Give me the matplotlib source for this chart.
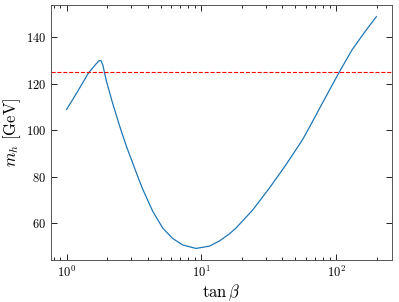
import matplotlib
matplotlib.use("Agg")
import matplotlib.pyplot as plt
from matplotlib.ticker import LogLocator, NullFormatter, NullLocator

plt.rcParams['font.family'] = 'serif'
plt.rcParams['font.serif'] = ['cmr10']
plt.rcParams['mathtext.fontset'] = 'cm'
plt.rcParams['axes.formatter.use_mathtext'] = True
plt.rcParams['axes.unicode_minus'] = False

tan_beta = [1.0, 1.18, 1.46, 1.66, 1.74, 1.80, 1.86, 1.97, 2.20, 2.47, 2.77, 3.19, 3.47,
            3.67, 4.36, 5.17, 6.13, 7.27, 9.13, 11.5, 13.6, 16.1, 18.1, 24.0, 31.9,
            42.4, 56.3, 63.1, 81.5, 106.5, 132, 166, 199]
m_h = [108.9, 115.7, 124.8, 128.6, 129.9, 130.0, 128.0, 121.4, 111.5, 102.0, 93.3, 83.8, 78.2,
       74.6, 65.0, 57.8, 53.3, 50.5, 49.0, 50.0, 52.2, 55.2, 57.8, 65.5, 74.9,
       85.0, 95.8, 101.0, 113.0, 125.4, 134.8, 142.9, 148.9]
m_ref = 125.0

fig = plt.figure(figsize=(3.99, 3.02), dpi=100)
ax = fig.add_axes([0.128, 0.139, 0.854, 0.844])
ax.plot(tan_beta, m_h, color='#1f77b4', lw=0.9)
ax.axhline(m_ref, color='red', ls='--', lw=0.8)
ax.set_xscale('log')
ax.set_yticks([60, 80, 100, 120, 140])
ax.tick_params(which='both', direction='in', top=True, right=True, labelsize=9, width=0.6)
ax.tick_params(which='major', length=4)
ax.tick_params(which='minor', length=2.2)
ax.xaxis.set_minor_locator(LogLocator(base=10, subs=range(2, 10)))
ax.xaxis.set_minor_formatter(NullFormatter())
ax.yaxis.set_minor_locator(NullLocator())
for s in ax.spines.values():
    s.set_linewidth(0.7)
    s.set_color('#555555')
ax.set_xlabel(r'$\tan\beta$', fontsize=12, labelpad=2)
ax.set_ylabel(r'$m_h\ [\mathrm{GeV}]$', fontsize=12, labelpad=2)
fig.savefig('out.png', dpi=100)
